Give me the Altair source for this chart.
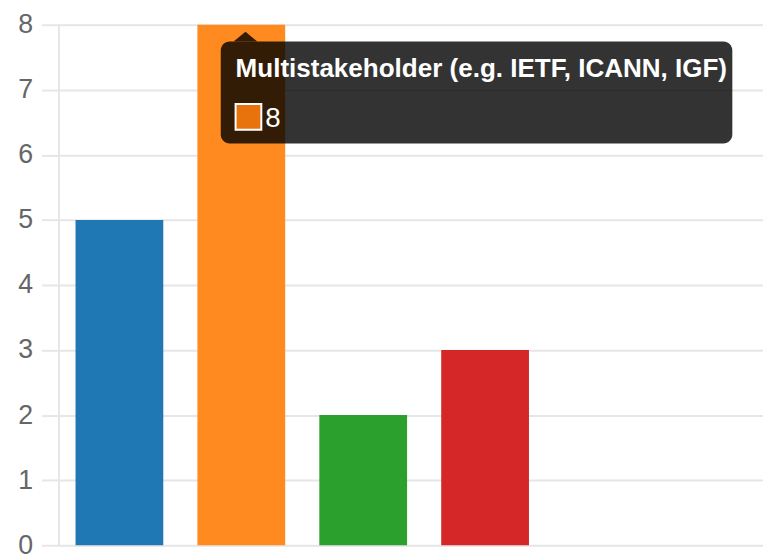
import altair as alt
import pandas as pd

categories = [
    "Multilateral (e.g. UN, ITU)",
    "Multistakeholder (e.g. IETF, ICANN, IGF)",
    "National governments",
    "Private sector",
]
values = [5, 8, 2, 3]
colors = ["#1f77b4", "#ff8a1f", "#2ca02c", "#d62728"]
y_ticks = [0, 1, 2, 3, 4, 5, 6, 7, 8]

hover_index = 1
hover_swatch = "#e8730c"

df = pd.DataFrame({"category": categories, "value": values, "color": colors})
tip = pd.DataFrame({
    "title": [categories[hover_index]],
    "label": [str(values[hover_index])],
    "color": [hover_swatch],
})

FONT = "Liberation Sans"

bars = alt.Chart(df).mark_bar(width=alt.RelativeBandSize(0.72)).encode(
    x=alt.X("category:N", sort=categories, axis=None,
            scale=alt.Scale(paddingInner=0, paddingOuter=0.89, align=0, round=False)),
    y=alt.Y("value:Q",
            scale=alt.Scale(domain=[0, 8], nice=False),
            axis=alt.Axis(values=y_ticks, title=None, grid=True,
                          gridColor="#e6e6e6", gridWidth=2,
                          domain=True, domainColor="#e6e6e6", domainWidth=2,
                          ticks=True, tickSize=17, tickColor="#e6e6e6", tickWidth=2,
                          labelFontSize=27, labelColor="#666666", labelFont=FONT,
                          labelPadding=9)),
    color=alt.Color("color:N", scale=None),
)

box = alt.Chart(tip).mark_rect(color="black", opacity=0.8, cornerRadius=9).encode(
    x=alt.value(223 - 59), x2=alt.value(740 - 59),
    y=alt.value(39 - 22), y2=alt.value(142 - 22),
)
caret = alt.Chart(tip).mark_point(
    shape="M0,-1L2.4,1L-2.4,1Z", filled=True, color="black", opacity=0.8,
    size=100, strokeWidth=0,
).encode(x=alt.value(248 - 59), y=alt.value(34 - 22))

title_text = alt.Chart(tip).mark_text(
    align="left", baseline="alphabetic", font=FONT, fontSize=26.3, fontWeight="bold", color="white"
).encode(x=alt.value(238 - 59), y=alt.value(75 - 22), text="title:N")

swatch = alt.Chart(tip).mark_rect(stroke="white", strokeWidth=2).encode(
    x=alt.value(238 - 59), x2=alt.value(264 - 59),
    y=alt.value(102 - 22), y2=alt.value(128 - 22),
    color=alt.Color("color:N", scale=None),
)
value_text = alt.Chart(tip).mark_text(
    align="left", baseline="alphabetic", font=FONT, fontSize=28, color="white"
).encode(x=alt.value(268 - 59), y=alt.value(125 - 22), text="label:N")

chart = alt.layer(bars, box, caret, title_text, swatch, value_text).properties(
    width=712, height=526,
    autosize=alt.AutoSizeParams(type="none"),
    padding={"left": 51, "top": 14, "right": 0, "bottom": 12},
).configure_view(stroke=None).configure(background="white")

chart.save("out.html", embed_options={"renderer": "svg", "actions": False})
